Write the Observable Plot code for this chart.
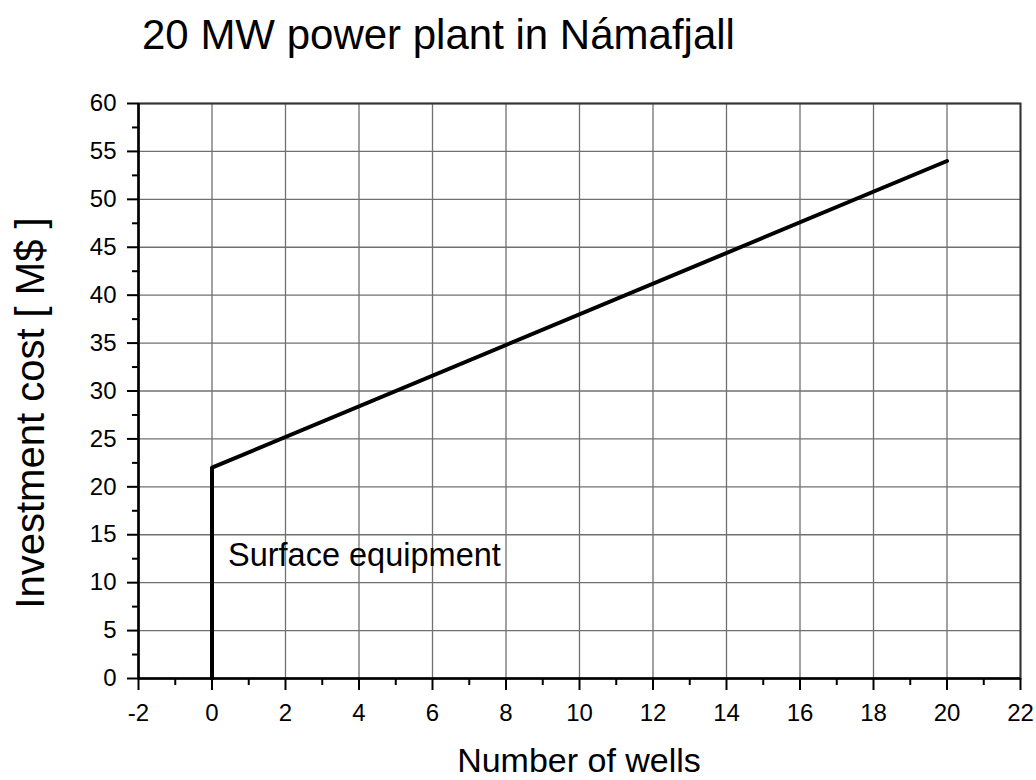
<!DOCTYPE html>
<html><head><meta charset="utf-8">
<script src="https://cdn.jsdelivr.net/npm/d3@7"></script>
<script src="https://cdn.jsdelivr.net/npm/@observablehq/plot@0.6"></script>
<style>body{margin:0;background:#fff} svg{display:block}</style>
</head><body><div id="chart"></div>
<script>
// ---- data ----
const wells = [0, 0, 20];
const cost = [0, 22, 54];
const xTicks = [-2, 0, 2, 4, 6, 8, 10, 12, 14, 16, 18, 20, 22];
const xMinor = [-1, 1, 3, 5, 7, 9, 11, 13, 15, 17, 19, 21];
const yTicks = [0, 5, 10, 15, 20, 25, 30, 35, 40, 45, 50, 55, 60];
const yMinor = [2.5, 7.5, 12.5, 17.5, 22.5, 27.5, 32.5, 37.5, 42.5, 47.5, 52.5, 57.5];
const titleText = "20 MW power plant in Námafjall";
const xLabel = "Number of wells";
const yLabel = "Investment cost [ M$ ]";
const noteText = ["Surface equipment"];
const noteX = [0];
const noteY = [12.8];

const data = wells.map((w, i) => ({wells: w, cost: cost[i]}));
const notes = noteText.map((t, i) => ({x: noteX[i], y: noteY[i], text: t}));
const font = "'Liberation Sans', Arial, Helvetica, sans-serif";
const fmt = d => String(d);

const plot = Plot.plot({
  width: 1036, height: 780,
  marginLeft: 138, marginRight: 16, marginTop: 103, marginBottom: 102,
  style: {fontFamily: font, fontSize: "24px", color: "#000", background: "#fff"},
  x: {domain: [-2, 22]},
  y: {domain: [0, 60]},
  marks: [
    Plot.gridX(xTicks, {stroke: "#707070", strokeOpacity: 1, strokeWidth: 1.3}),
    Plot.gridY(yTicks, {stroke: "#707070", strokeOpacity: 1, strokeWidth: 1.3}),
    Plot.frame({stroke: "#333", strokeWidth: 2}),
    Plot.axisX(xTicks, {tickSize: 12, tickPadding: 13, tickFormat: fmt, label: null, strokeWidth: 2, fill: "#000"}),
    Plot.axisX(xMinor, {tickSize: 7, tickFormat: () => "", label: null, strokeWidth: 2}),
    Plot.axisY(yTicks, {tickSize: 11, tickPadding: 11, tickFormat: fmt, label: null, strokeWidth: 2, fill: "#000"}),
    Plot.axisY(yMinor, {tickSize: 6, tickFormat: () => "", label: null, strokeWidth: 2}),
    Plot.ruleX([-2], {stroke: "#000", strokeWidth: 2.5}),
    Plot.ruleY([0], {stroke: "#000", strokeWidth: 2.5}),
    Plot.line(data, {x: "wells", y: "cost", stroke: "#000", strokeWidth: 4}),
    Plot.text(notes, {x: "x", y: "y", text: "text", textAnchor: "start", dx: 16, fontSize: 32.5, fill: "#000"})
  ]
});

const svg = d3.select(plot);
svg.append("text").attr("x", 142).attr("y", 49).attr("text-anchor", "start")
  .attr("font-family", font).attr("font-size", 42).attr("fill", "#000").text(titleText);
svg.append("text").attr("x", 579).attr("y", 772).attr("text-anchor", "middle")
  .attr("font-family", font).attr("font-size", 34).attr("fill", "#000").text(xLabel);
svg.append("text").attr("transform", "translate(44,413) rotate(-90)").attr("text-anchor", "middle")
  .attr("font-family", font).attr("font-size", 40).attr("fill", "#000").text(yLabel);

document.getElementById("chart").appendChild(plot);
</script>
</body></html>
